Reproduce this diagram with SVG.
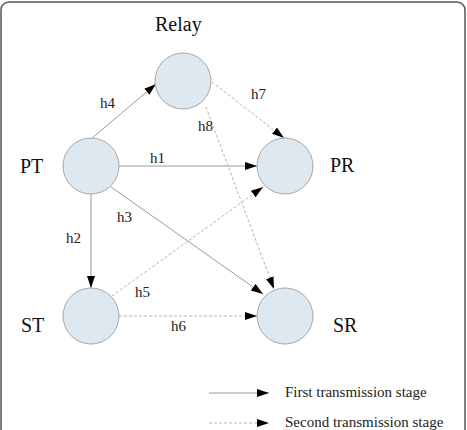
<svg xmlns="http://www.w3.org/2000/svg" width="467" height="430" viewBox="0 0 467 430">
<style>
.node{fill:#dde8f1;stroke:#a6a6a6;stroke-width:1}
.lbl{font-family:"Liberation Serif",serif;font-size:20px;fill:#111}
.el{font-family:"Liberation Serif",serif;font-size:15px;fill:#222}
.s{stroke:#9a9a9a;stroke-width:1;fill:none}
.d{stroke:#b5b5b5;stroke-width:1;fill:none;stroke-dasharray:3,2}
</style>
<defs>
<marker id="ah" viewBox="0 0 12 8" refX="12" refY="4" markerWidth="12" markerHeight="8" markerUnits="userSpaceOnUse" orient="auto">
<path d="M0,0 L12,4 L0,8 Z" fill="#000"/>
</marker>
</defs>
<rect x="1" y="2" width="464" height="445" rx="8" fill="#fff" stroke="#555" stroke-width="1.5"/>
<g id="connectors">
<line class="s" x1="91" y1="139" x2="156" y2="84" marker-end="url(#ah)"/>
<line class="s" x1="119" y1="166" x2="257" y2="166" marker-end="url(#ah)"/>
<line class="s" x1="91" y1="194" x2="91" y2="288" marker-end="url(#ah)"/>
<line class="s" x1="111" y1="187" x2="263" y2="294" marker-end="url(#ah)"/>
<line class="d" x1="112" y1="296" x2="263" y2="187" marker-end="url(#ah)"/>
<line class="d" x1="119" y1="316" x2="257" y2="316" marker-end="url(#ah)"/>
<line class="d" x1="212" y1="82" x2="284" y2="138" marker-end="url(#ah)"/>
<line class="d" x1="206" y1="107" x2="274" y2="289" marker-end="url(#ah)"/>
<text class="el" x="100" y="108">h4</text>
<text class="el" x="150" y="163">h1</text>
<text class="el" x="198" y="131">h8</text>
<text class="el" x="251" y="99">h7</text>
<text class="el" x="117" y="222">h3</text>
<text class="el" x="66" y="243">h2</text>
<text class="el" x="135" y="297">h5</text>
<text class="el" x="171" y="331">h6</text>
</g>
<g id="relay"><circle class="node" cx="183" cy="81" r="28"/><text class="lbl" x="155" y="31">Relay</text></g>
<g id="pt"><circle class="node" cx="91" cy="166" r="28"/><text class="lbl" x="20" y="173">PT</text></g>
<g id="pr"><circle class="node" cx="285" cy="166" r="28"/><text class="lbl" x="330" y="172">PR</text></g>
<g id="st"><circle class="node" cx="91" cy="316" r="28"/><text class="lbl" x="21" y="332">ST</text></g>
<g id="sr"><circle class="node" cx="285" cy="316" r="28"/><text class="lbl" x="333" y="332">SR</text></g>
<g id="legend">
<line class="s" x1="209" y1="393" x2="269" y2="393" marker-end="url(#ah)"/>
<line class="d" x1="209" y1="423" x2="269" y2="423" marker-end="url(#ah)"/>
<text class="el" x="285" y="397">First transmission stage</text>
<text class="el" x="285" y="427">Second transmission stage</text>
</g>
</svg>
